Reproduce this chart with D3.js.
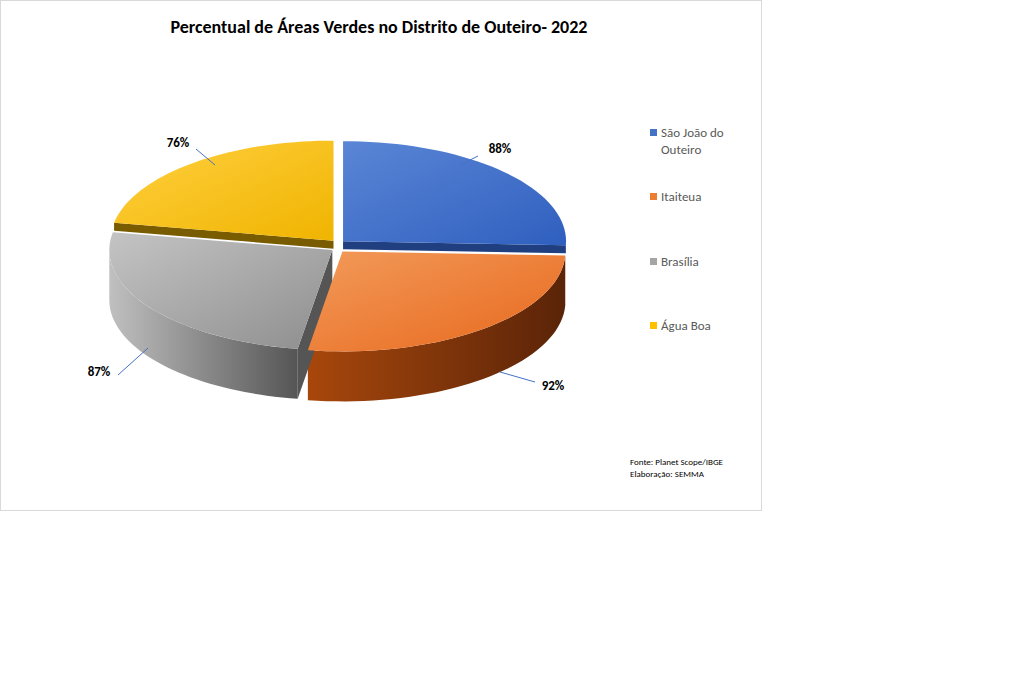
<!DOCTYPE html>
<html lang="en">
<head>
<meta charset="UTF-8">
<script src="https://d3js.org/d3.v7.min.js"></script>
<style>
  body { margin: 0; background: #fff; font-family: Calibri, Carlito, "Liberation Sans", sans-serif; }
</style>
</head>
<body>
<svg id="chart" width="1024" height="675"></svg>
<script>
const categories = ["São João do Outeiro", "Itaiteua", "Brasília", "Água Boa"];
const values = [88, 92, 87, 76];
const labels = ["88%", "92%", "87%", "76%"];
const topColors = [["#5b86d6", "#2f5fbf"], ["#f29a5a", "#e8681c"], ["#c4c4c4", "#8e8e8e"], ["#ffd040", "#f0b400"]];
const sideColors = [["#1f3f80", "#1f3f80"], ["#a8470c", "#5a2408"], ["#c0c0c0", "#555555"], ["#b88a00", "#7a5c00"]];
const legendColors = ["#4472C4", "#ED7D31", "#A5A5A5", "#FFC000"];

const svg = d3.select("#chart");
svg.append("rect").attr("x", 0.5).attr("y", 0.5).attr("width", 761).attr("height", 510)
  .attr("fill", "#fff").attr("stroke", "#d9d9d9");

svg.append("text").attr("x", 379).attr("y", 33).attr("text-anchor", "middle")
  .attr("font-size", 18).attr("font-weight", "bold").attr("fill", "#000")
  .text("Percentual de Áreas Verdes no Distrito de Outeiro- 2022");

const cx = 338, cy = 246, rx = 223, ry = 100, depth = 50, explode = 7;
const defs = svg.append("defs");

const pie = d3.pie().sort(null).value(d => d)(values);
const pt = (a, r = 1) => [rx * r * Math.sin(a), -ry * r * Math.cos(a)];
const line = d3.line();
const arcPts = (a0, a1) => d3.range(0, 41).map(k => pt(a0 + (a1 - a0) * k / 40));

topColors.forEach((c, i) => {
  const g = defs.append("linearGradient").attr("id", "top" + i).attr("x1", 0).attr("y1", 0).attr("x2", 1).attr("y2", 1);
  g.append("stop").attr("offset", 0).attr("stop-color", c[0]);
  g.append("stop").attr("offset", 1).attr("stop-color", c[1]);
  const s = defs.append("linearGradient").attr("id", "side" + i).attr("x1", 0).attr("y1", 0).attr("x2", 1).attr("y2", 0);
  s.append("stop").attr("offset", 0).attr("stop-color", sideColors[i][0]);
  s.append("stop").attr("offset", 1).attr("stop-color", sideColors[i][1]);
});

const sides = svg.append("g"), tops = svg.append("g");
const order = pie.map((d, i) => i).sort((a, b) =>
  -Math.cos((pie[b].startAngle + pie[b].endAngle) / 2) + Math.cos((pie[a].startAngle + pie[a].endAngle) / 2));

order.forEach(i => {
  const d = pie[i];
  const m = (d.startAngle + d.endAngle) / 2;
  const tr = `translate(${cx + explode * Math.sin(m)},${cy - explode * Math.cos(m)})`;
  const gs = sides.append("g").attr("transform", tr);
  const gt = tops.append("g").attr("transform", tr);
  // only the radial walls that face the viewer; walls near the side of the pie are mostly hidden
  [[d.startAngle, Math.sin(d.startAngle) < -0.01], [d.endAngle, Math.sin(d.endAngle) > 0.01]].forEach(([a, vis]) => {
    if (!vis) return;
    const p = pt(a);
    const h = Math.abs(Math.cos(a)) < 0.2 ? 8 : depth;
    gs.append("path").attr("d", line([[0, 0], p, [p[0], p[1] + h], [0, h]]) + "Z")
      .attr("fill", sideColors[i][1]);
  });
  const f0 = Math.max(d.startAngle, Math.PI / 2), f1 = Math.min(d.endAngle, 3 * Math.PI / 2);
  if (f1 - f0 > 0.1) {
    const top = arcPts(f0, f1);
    gs.append("path").attr("d", line(top.concat(top.slice().reverse().map(p => [p[0], p[1] + depth]))) + "Z")
      .attr("fill", `url(#side${i})`);
  }
  gt.append("path").attr("d", line([[0, 0]].concat(arcPts(d.startAngle, d.endAngle))) + "Z")
    .attr("fill", `url(#top${i})`);
});

// data labels with leader lines
const labelPos = [[500, 148], [553, 385], [99, 371], [178, 142]];
const leaderEnd = [[478, 156], [535, 382], [118, 375], [196, 149]];
const leaderStart = [[460, 165], [500, 372], [148, 348], [215, 165]];
pie.forEach((d, i) => {
  svg.append("polyline")
    .attr("points", [leaderStart[i], leaderEnd[i]].map(p => p.join(",")).join(" "))
    .attr("fill", "none").attr("stroke", "#4472C4").attr("stroke-width", 1);
  svg.append("text").attr("x", labelPos[i][0]).attr("y", labelPos[i][1] + 5)
    .attr("text-anchor", "middle").attr("font-size", 13).attr("font-weight", "bold")
    .text(labels[i]);
});

// legend
const legY = [133, 197, 262, 326];
categories.forEach((c, i) => {
  svg.append("rect").attr("x", 650).attr("y", legY[i] - 4).attr("width", 7).attr("height", 7)
    .attr("fill", legendColors[i]);
  const t = svg.append("text").attr("x", 661).attr("y", legY[i] + 4)
    .attr("font-size", 13).attr("fill", "#595959");
  if (i === 0) {
    t.append("tspan").text("São João do");
    t.append("tspan").attr("x", 661).attr("dy", 17).text("Outeiro");
  } else t.text(c);
});

svg.append("text").attr("x", 630).attr("y", 465).attr("font-size", 9).text("Fonte: Planet Scope/IBGE");
svg.append("text").attr("x", 630).attr("y", 477).attr("font-size", 9).text("Elaboração: SEMMA");
</script>
</body>
</html>
